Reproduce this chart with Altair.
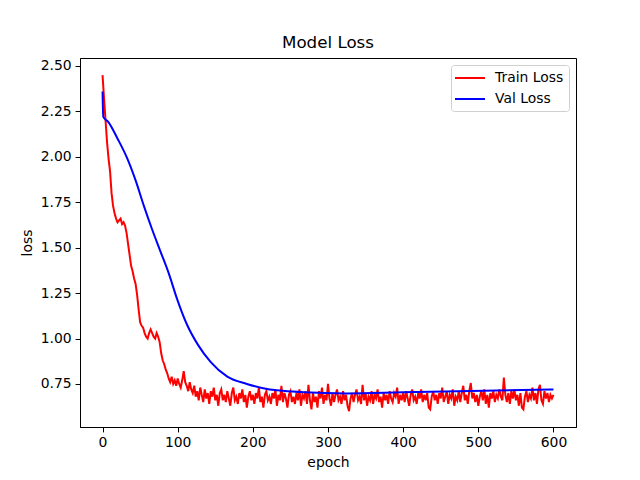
import altair as alt
import pandas as pd

# ---- data ----
train_epochs = list(range(0, 601, 2))
train_loss = [
    # epochs 0-120
    2.45, 2.32, 2.20, 2.08, 1.99, 1.92, 1.80, 1.73, 1.69, 1.66,
    1.64, 1.65, 1.66, 1.63, 1.64, 1.62, 1.58, 1.52, 1.46, 1.40,
    1.37, 1.33, 1.30, 1.24, 1.16, 1.09, 1.07, 1.06, 1.03, 1.01,
    1.00, 1.03, 1.05, 1.03, 1.01, 1.00, 1.03, 1.01, 0.98, 0.92,
    0.88, 0.86, 0.83, 0.81, 0.78, 0.76, 0.79, 0.75, 0.77, 0.74,
    0.78, 0.75, 0.73, 0.77, 0.82, 0.76, 0.74, 0.71, 0.76, 0.72,
    0.70,
    # epochs 122-600
    0.74, 0.68, 0.71, 0.66, 0.73, 0.69, 0.65, 0.72, 0.67, 0.70,
    0.64, 0.71, 0.68, 0.73, 0.66, 0.69, 0.63, 0.70, 0.72, 0.66,
    0.69, 0.65, 0.71, 0.67, 0.63, 0.70, 0.73, 0.66, 0.68, 0.64,
    0.70, 0.67, 0.72, 0.65, 0.69, 0.62, 0.68, 0.71, 0.66, 0.69,
    0.64, 0.70, 0.67, 0.73, 0.65, 0.68, 0.62, 0.69, 0.71, 0.66,
    0.68, 0.64, 0.70, 0.67, 0.72, 0.63, 0.69, 0.66, 0.74, 0.65,
    0.70, 0.67, 0.62, 0.69, 0.71, 0.65, 0.68, 0.64, 0.70, 0.66,
    0.72, 0.63, 0.69, 0.67, 0.71, 0.64, 0.745, 0.66, 0.61, 0.70,
    0.65, 0.68, 0.62, 0.71, 0.67, 0.73, 0.64, 0.69, 0.66, 0.75,
    0.67, 0.63, 0.70, 0.65, 0.69, 0.72, 0.66, 0.68, 0.64, 0.71,
    0.66, 0.69, 0.63, 0.60, 0.67, 0.70, 0.65, 0.69, 0.72, 0.66,
    0.68, 0.64, 0.745, 0.66, 0.70, 0.63, 0.68, 0.66, 0.71, 0.64,
    0.69, 0.67, 0.72, 0.65, 0.68, 0.62, 0.70, 0.66, 0.69, 0.64,
    0.71, 0.67, 0.65, 0.70, 0.68, 0.73, 0.64, 0.69, 0.66, 0.70,
    0.65, 0.71, 0.67, 0.63, 0.69, 0.72, 0.66, 0.68, 0.64, 0.70,
    0.67, 0.72, 0.65, 0.69, 0.66, 0.70, 0.62, 0.61, 0.68, 0.71,
    0.66, 0.69, 0.64, 0.70, 0.67, 0.73, 0.65, 0.68, 0.71, 0.64,
    0.69, 0.67, 0.72, 0.63, 0.68, 0.66, 0.71, 0.65, 0.70, 0.74,
    0.66, 0.69, 0.64, 0.71, 0.755, 0.67, 0.70, 0.65, 0.69, 0.63,
    0.68, 0.71, 0.66, 0.72, 0.64, 0.69, 0.62, 0.70, 0.67, 0.71,
    0.65, 0.69, 0.67, 0.72, 0.68, 0.66, 0.785, 0.69, 0.65, 0.70,
    0.64, 0.71, 0.67, 0.72, 0.66, 0.69, 0.63, 0.70, 0.62, 0.61,
    0.68, 0.71, 0.65, 0.69, 0.67, 0.73, 0.66, 0.70, 0.64, 0.72,
    0.745, 0.66, 0.64, 0.71, 0.67, 0.70, 0.65, 0.69, 0.67, 0.69,
]

val_epochs = [0, 1, 8, 20, 33, 44, 55, 66, 77, 88, 99, 112, 127, 144,
              166, 192, 219, 240, 268, 325, 400, 490, 600]
val_loss = [2.36, 2.22, 2.19, 2.10, 1.99, 1.87, 1.73, 1.60, 1.48, 1.36,
            1.22, 1.08, 0.965, 0.87, 0.79, 0.75, 0.722, 0.712, 0.704,
            0.698, 0.704, 0.711, 0.719]

series_names = ["Train Loss", "Val Loss"]
series_colors = ["red", "blue"]
x_ticks = [0, 100, 200, 300, 400, 500, 600]
y_ticks = [0.75, 1.00, 1.25, 1.50, 1.75, 2.00, 2.25, 2.50]

train_df = pd.DataFrame({"epoch": train_epochs, "loss": train_loss,
                         "series": series_names[0]})
val_df = pd.DataFrame({"epoch": val_epochs, "loss": val_loss,
                       "series": series_names[1]})

FONT = "DejaVu Sans"

x_enc = alt.X("epoch:Q",
              scale=alt.Scale(domain=[-30, 630], nice=False, zero=False),
              axis=alt.Axis(values=x_ticks, title="epoch", format="d"))
y_enc = alt.Y("loss:Q",
              scale=alt.Scale(domain=[0.513, 2.544], nice=False, zero=False),
              axis=alt.Axis(values=y_ticks, title="loss", format=".2f"))
color_enc = alt.Color("series:N",
                      scale=alt.Scale(domain=series_names, range=series_colors),
                      legend=alt.Legend(title=None, orient="top-right",
                                        offset=7, padding=5,
                                        strokeColor="#d0d0d0", fillColor="white",
                                        cornerRadius=3,
                                        symbolType="M-2.14,0H2.14",
                                        symbolSize=196, symbolStrokeWidth=2,
                                        symbolOffset=6,
                                        labelFontSize=13.9, labelFont=FONT,
                                        labelColor="black", rowPadding=6,
                                        labelOffset=17))

train_line = alt.Chart(train_df).mark_line(strokeWidth=2).encode(
    x=x_enc, y=y_enc, color=color_enc)
val_line = alt.Chart(val_df).mark_line(strokeWidth=2, interpolate="monotone").encode(
    x=x_enc, y=y_enc, color=color_enc)

chart = alt.layer(train_line, val_line).properties(
    width=496, height=369,
    autosize=alt.AutoSizeParams(type="none"),
    padding={"left": 72, "top": 50, "right": 56, "bottom": 45},
    title=alt.TitleParams("Model Loss", font=FONT, fontSize=16.7,
                          fontWeight="normal", color="black", anchor="middle",
                          offset=6),
).configure_view(
    stroke="black", strokeWidth=1
).configure_axis(
    grid=False, domainColor="black", tickColor="black", tickSize=4.9,
    labelFont=FONT, labelFontSize=13.9, labelColor="black", labelPadding=4,
    titleFont=FONT, titleFontSize=13.9, titleFontWeight="normal",
    titleColor="black", titlePadding=6
)

chart.save("out.html", embed_options={"renderer": "svg", "actions": False})
